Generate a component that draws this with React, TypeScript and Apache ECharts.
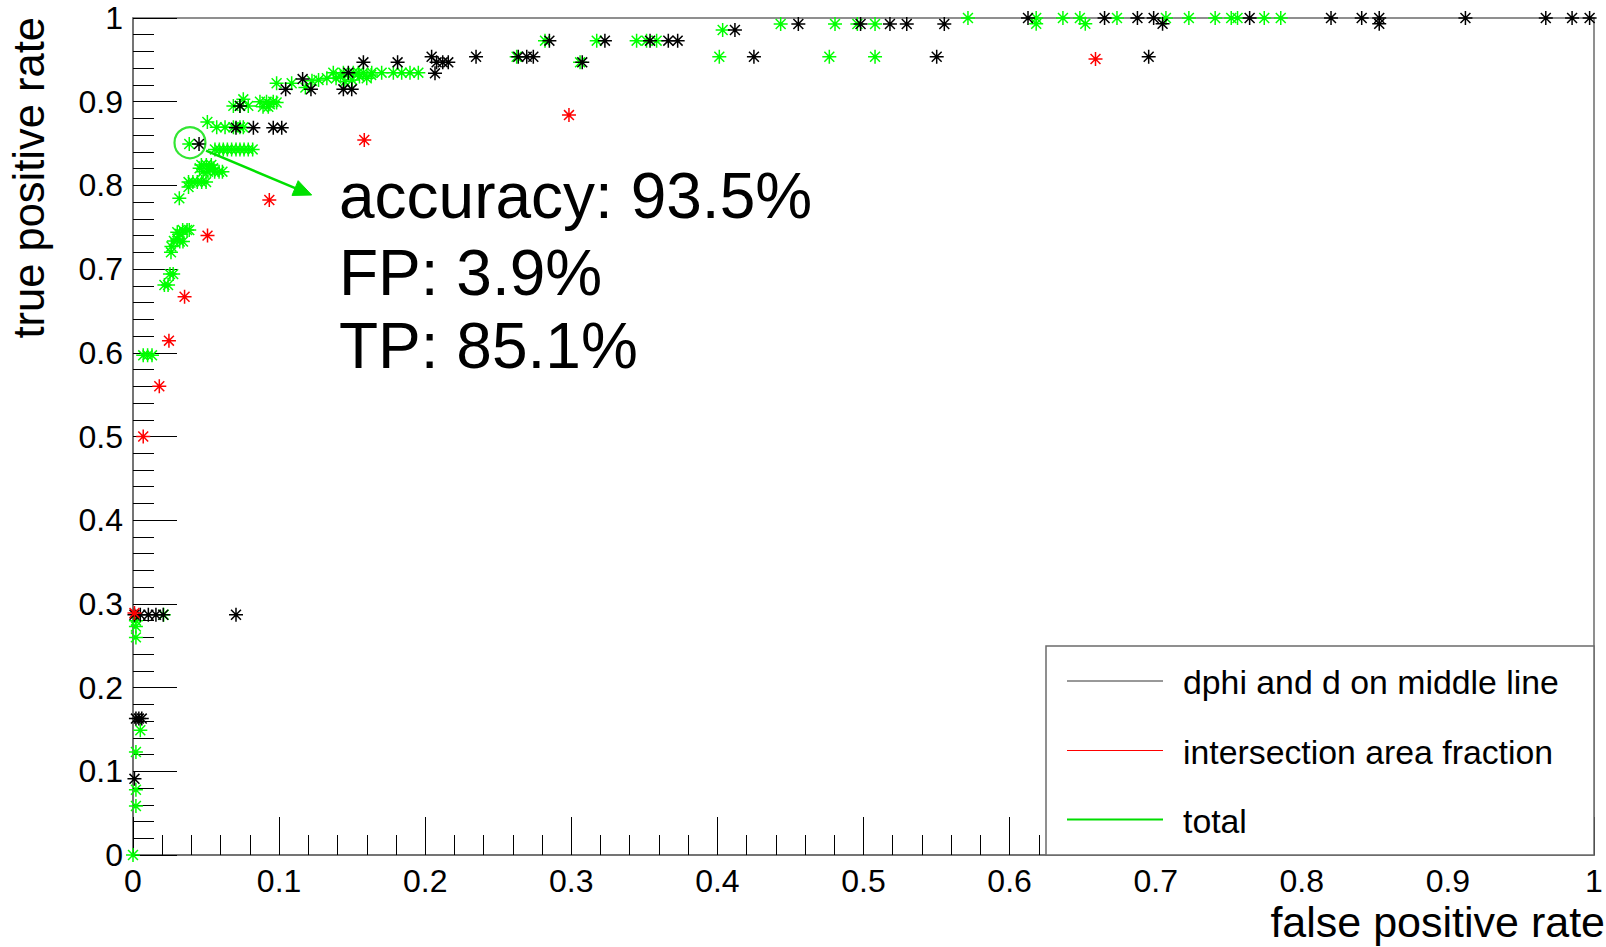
import React, { useEffect, useRef } from "react";
import * as echarts from "echarts";

const FONT = '"Liberation Sans", Arial, Helvetica, sans-serif';

// ---- data (false positive rate, true positive rate) ----
const dphiMiddleLine: [number, number][] = [
  [0.001, 0.091], [0.002, 0.163], [0.004, 0.163], [0.006, 0.163],
  [0.001, 0.287], [0.005, 0.287], [0.0105, 0.287], [0.0157, 0.287], [0.0207, 0.287], [0.0705, 0.287],
  [0.0452, 0.8495], [0.0705, 0.869], [0.0824, 0.869], [0.096, 0.869], [0.1018, 0.869],
  [0.0732, 0.895], [0.1045, 0.9148], [0.1161, 0.927], [0.1218, 0.9148], [0.144, 0.9148],
  [0.1497, 0.9148], [0.1474, 0.9347], [0.1577, 0.947], [0.1811, 0.947],
  [0.2044, 0.9537], [0.2067, 0.9339], [0.2078, 0.947], [0.212, 0.947], [0.2158, 0.947], [0.2348, 0.9537],
  [0.2637, 0.9537], [0.2695, 0.9537], [0.274, 0.9537], [0.285, 0.9729], [0.3075, 0.947],
  [0.323, 0.9729], [0.3539, 0.9729], [0.3664, 0.9729], [0.3728, 0.9729],
  [0.412, 0.9857], [0.425, 0.9537], [0.4554, 0.9928], [0.498, 0.9928], [0.5181, 0.9928],
  [0.5296, 0.9928], [0.5501, 0.9537], [0.5553, 0.9928],
  [0.6126, 1], [0.665, 1], [0.6875, 1], [0.6986, 1], [0.7047, 0.993], [0.6952, 0.9537],
  [0.7643, 1], [0.82, 1], [0.841, 1], [0.853, 1], [0.853, 0.993], [0.912, 1], [0.967, 1],
  [0.985, 1], [0.997, 1],
];

const intersectionArea: [number, number][] = [
  [0.001, 0.289], [0.007, 0.5], [0.018, 0.56], [0.0246, 0.6145], [0.0353, 0.667],
  [0.051, 0.74], [0.0933, 0.7826], [0.1583, 0.8542], [0.2984, 0.884], [0.6588, 0.951],
];

const totalRoc: [number, number][] = [
  [0, 0], [0.002, 0.0585], [0.002, 0.078], [0.002, 0.123], [0.005, 0.149], [0.002, 0.26],
  [0.002, 0.273], [0.002, 0.28], [0.021, 0.287],
  [0.007, 0.597], [0.01, 0.597], [0.013, 0.597],
  [0.0215, 0.681], [0.024, 0.681], [0.0253, 0.694], [0.0275, 0.694],
  [0.026, 0.72], [0.0263, 0.727], [0.028, 0.7336], [0.0303, 0.736], [0.032, 0.742], [0.034, 0.7467],
  [0.037, 0.7467], [0.032, 0.733], [0.0342, 0.733], [0.0303, 0.744], [0.0385, 0.7467],
  [0.0317, 0.7845],
  [0.038, 0.798], [0.038, 0.804], [0.041, 0.804], [0.044, 0.804], [0.047, 0.804], [0.05, 0.804],
  [0.0456, 0.8204], [0.0468, 0.8244], [0.0502, 0.8244], [0.0536, 0.8244], [0.0548, 0.8204],
  [0.0525, 0.8204], [0.048, 0.8164], [0.0513, 0.8164], [0.0559, 0.8164], [0.0589, 0.8164], [0.0612, 0.8164],
  [0.0385, 0.8495],
  [0.0561, 0.843], [0.0591, 0.843], [0.0618, 0.843], [0.0646, 0.843], [0.0675, 0.843],
  [0.0705, 0.843], [0.0732, 0.843], [0.076, 0.843], [0.0789, 0.843], [0.0819, 0.843],
  [0.0509, 0.8757],
  [0.0573, 0.8694], [0.063, 0.8694], [0.0687, 0.8694], [0.0732, 0.8694], [0.0755, 0.8694],
  [0.0687, 0.895], [0.0732, 0.895], [0.0789, 0.895], [0.0755, 0.9028],
  [0.0869, 0.9], [0.089, 0.894], [0.0914, 0.9], [0.0937, 0.897], [0.096, 0.9], [0.0983, 0.899], [0.0926, 0.894],
  [0.0983, 0.922], [0.1086, 0.922], [0.118, 0.917], [0.1225, 0.925], [0.127, 0.926], [0.1327, 0.928],
  [0.139, 0.928], [0.142, 0.93], [0.145, 0.924], [0.15, 0.926], [0.155, 0.93], [0.16, 0.928], [0.163, 0.932],
  [0.1371, 0.9347], [0.144, 0.9347], [0.1508, 0.9347], [0.1542, 0.9347], [0.1577, 0.9347],
  [0.1634, 0.9347], [0.1702, 0.9347], [0.1782, 0.9347], [0.1839, 0.9347], [0.1896, 0.9347], [0.1953, 0.9347],
  [0.2626, 0.9537], [0.282, 0.9729], [0.306, 0.947], [0.3174, 0.9729], [0.3447, 0.9729], [0.3515, 0.9729],
  [0.3584, 0.9729], [0.4036, 0.9857], [0.4013, 0.9537], [0.4433, 0.9928], [0.4805, 0.9928],
  [0.4766, 0.9537], [0.4958, 0.9928], [0.5079, 0.9928], [0.5079, 0.9537],
  [0.5715, 1], [0.6182, 1], [0.6182, 0.993], [0.6365, 1], [0.6481, 1], [0.6518, 0.993], [0.6735, 1],
  [0.707, 1], [0.7227, 1], [0.7407, 1], [0.7517, 1], [0.756, 1], [0.7743, 1], [0.7856, 1],
];

const seriesNames = ["dphi and d on middle line", "intersection area fraction", "total"];
const annotationLines = ["accuracy: 93.5%", "FP: 3.9%", "TP: 85.1%"];
const workingPoint: [number, number] = [0.039, 0.851];
const arrowFrom: [number, number] = [0.05, 0.8415];
const arrowTo: [number, number] = [0.1223, 0.7885];
const xTitle = "false positive rate";
const yTitle = "true positive rate";

const BLACK = "#000000";
const RED = "#ff0000";
const GREEN = "#00ff00";
const ANNO_GREEN = "#00e000";
const FRAME = "#6b6b6b";

const MARKER =
  "path://M5 0L5 10M0 5L10 5M1.46 1.46L8.54 8.54M1.46 8.54L8.54 1.46";

function markerSeries(name: string, data: [number, number][], color: string, z: number) {
  return {
    type: "scatter",
    name,
    data,
    symbol: MARKER,
    symbolSize: 14,
    silent: true,
    z,
    itemStyle: { color: "none", borderColor: color, borderWidth: 1.5, opacity: 1 },
  };
}

export default function App() {
  const ref = useRef<HTMLDivElement>(null);

  useEffect(() => {
    if (!ref.current) return;
    const chart = echarts.init(ref.current, null, { renderer: "svg" });

    const axisBase = (tickLen: number, minorLen: number, margin: number) => ({
      type: "value",
      min: 0,
      max: 1,
      interval: 0.1,
      axisLine: { show: true, onZero: false, lineStyle: { color: FRAME, width: 1.5 } },
      axisTick: { show: true, inside: true, length: tickLen, lineStyle: { color: "#000", width: 1 } },
      minorTick: { show: true, splitNumber: 5, length: minorLen, lineStyle: { color: "#000", width: 1 } },
      splitLine: { show: false },
      minorSplitLine: { show: false },
      axisLabel: { color: "#000", fontSize: 32, fontFamily: FONT, margin },
    });

    const option: any = {
      animation: false,
      backgroundColor: "#ffffff",
      grid: {
        left: 133,
        right: 12,
        top: 18,
        bottom: 92,
        show: true,
        borderColor: FRAME,
        borderWidth: 1.5,
        backgroundColor: "transparent",
      },
      xAxis: axisBase(38, 20, 10),
      yAxis: axisBase(44, 21, 10),
      series: [
        markerSeries(seriesNames[2], totalRoc, GREEN, 3),
        markerSeries(seriesNames[0], dphiMiddleLine, BLACK, 4),
        markerSeries(seriesNames[1], intersectionArea, RED, 5),
        {
          type: "scatter",
          name: "working point",
          data: [workingPoint],
          symbol: "circle",
          symbolSize: 31,
          silent: true,
          z: 6,
          itemStyle: { color: "none", borderColor: ANNO_GREEN, borderWidth: 2.2 },
        },
      ],
    };
    chart.setOption(option);

    const p0 = chart.convertToPixel({ gridIndex: 0 } as any, arrowFrom) as number[];
    const p1 = chart.convertToPixel({ gridIndex: 0 } as any, arrowTo) as number[];
    const dx = p1[0] - p0[0];
    const dy = p1[1] - p0[1];
    const len = Math.sqrt(dx * dx + dy * dy);
    const ux = dx / len;
    const uy = dy / len;
    const headLen = 18;
    const headHalf = 8;
    const bx = p1[0] - ux * headLen;
    const by = p1[1] - uy * headLen;

    const legendBox = { x: 1046, y: 646, w: 548, h: 209 };
    const legendRows = [681, 750.5, 819.5];
    const legendColors = ["#333333", RED, "#00dd00"];
    const legendWidths = [1, 1, 2.2];

    const textStyle = (text: string, size: number, align: string, extra: any = {}) => ({
      text,
      fill: "#000",
      fontSize: size,
      fontFamily: FONT,
      align,
      textAlign: align,
      verticalAlign: "middle",
      textVerticalAlign: "middle",
      ...extra,
    });

    const graphics: any[] = [
      {
        type: "text",
        x: 29,
        y: 17,
        rotation: Math.PI / 2,
        z: 60,
        style: textStyle(yTitle, 43.5, "right"),
      },
      {
        type: "text",
        x: 1605,
        y: 922,
        z: 60,
        style: textStyle(xTitle, 43, "right"),
      },
      ...annotationLines.map((t, i) => ({
        type: "text",
        x: 339,
        y: [196, 273, 346][i],
        z: 60,
        style: textStyle(t, 64, "left"),
      })),
      {
        type: "line",
        z: 60,
        shape: { x1: p0[0], y1: p0[1], x2: bx + ux * 2, y2: by + uy * 2 },
        style: { stroke: ANNO_GREEN, lineWidth: 2.5 },
      },
      {
        type: "polygon",
        z: 60,
        shape: {
          points: [
            [p1[0], p1[1]],
            [bx - uy * headHalf, by + ux * headHalf],
            [bx + uy * headHalf, by - ux * headHalf],
          ],
        },
        style: { fill: ANNO_GREEN, stroke: ANNO_GREEN, lineWidth: 1 },
      },
      {
        type: "rect",
        z: 50,
        shape: { x: legendBox.x, y: legendBox.y, width: legendBox.w, height: legendBox.h },
        style: { fill: "#ffffff", stroke: FRAME, lineWidth: 1.5 },
      },
      ...legendRows.map((y, i) => ({
        type: "line",
        z: 55,
        shape: { x1: 1067, y1: y, x2: 1163, y2: y },
        style: { stroke: legendColors[i], lineWidth: legendWidths[i] },
      })),
      ...legendRows.map((y, i) => ({
        type: "text",
        x: 1183,
        y: y + 1,
        z: 55,
        style: textStyle(seriesNames[i], 33.8, "left"),
      })),
    ];
    chart.setOption({ graphic: graphics });

    return () => chart.dispose();
  }, []);

  return (
    <div
      ref={ref}
      style={{ position: "absolute", left: 0, top: 0, width: 1606, height: 947, background: "#fff" }}
    />
  );
}
